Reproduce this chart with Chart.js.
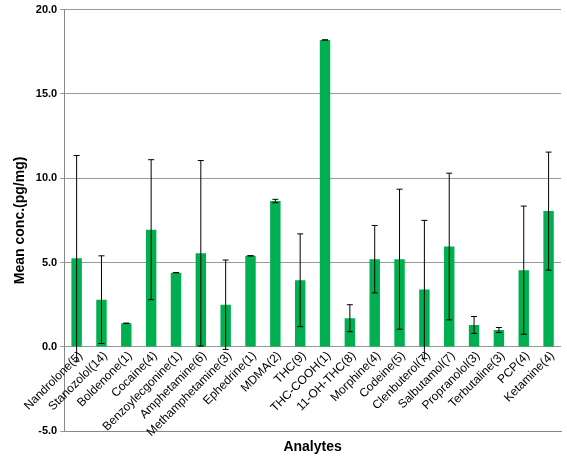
<!DOCTYPE html>
<html><head><script src="https://cdn.jsdelivr.net/npm/chart.js@4"></script>
<style>body{margin:0;background:#fff}#w{width:567px;height:462px}</style></head>
<body><div id="w"><canvas id="c"></canvas></div>
<script>
const categories=["Nandrolone(5)","Stanozolol(14)","Boldenone(1)","Cocaine(4)","Benzoylecgonine(1)","Amphetamine(6)","Methamphetamine(3)","Ephedrine(1)","MDMA(2)","THC(9)","THC-COOH(1)","11-OH-THC(8)","Morphine(4)","Codeine(5)","Clenbuterol(7)","Salbutamol(7)","Propranolol(3)","Terbutaline(3)","PCP(4)","Ketamine(4)"];
const means=[5.25,2.8,1.4,6.95,4.4,5.55,2.5,5.4,8.65,3.95,18.2,1.7,5.2,5.2,3.4,5.95,1.3,1.0,4.55,8.05];
const errors=[6.1,2.6,0,4.15,0,5.5,2.65,0,0.1,2.75,0,0.8,2.0,4.15,4.1,4.35,0.5,0.15,3.8,3.5];
const yTicks=[-5,0,5,10,15,20];
const FONT="'Liberation Sans Narrow','Liberation Sans', Arial, sans-serif";
const plug={id:'p',afterDatasetsDraw(ch){
  const {ctx,scales:{x,y}}=ch;
  ctx.save();ctx.strokeStyle='#000';ctx.lineWidth=1;
  means.forEach((m,i)=>{const e=errors[i];const px=x.getPixelForValue(i);
    const t=y.getPixelForValue(m+e),b=y.getPixelForValue(m-e);
    ctx.beginPath();ctx.moveTo(px,t);ctx.lineTo(px,b);
    ctx.moveTo(px-3,t);ctx.lineTo(px+3,t);ctx.moveTo(px-3,b);ctx.lineTo(px+3,b);ctx.stroke();});
  const y0=y.getPixelForValue(0);
  ctx.fillStyle='#000';ctx.font='12px '+FONT;ctx.textAlign='right';ctx.textBaseline='middle';
  categories.forEach((c,i)=>{const px=x.getPixelForValue(i);
    ctx.save();ctx.translate(px+4,y0+7);ctx.rotate(-Math.PI/4);ctx.fillText(c,0,0);ctx.restore();});
  ctx.restore();}};
new Chart(document.getElementById('c'),{type:'bar',
 data:{labels:categories,datasets:[{data:means,backgroundColor:'#00b050',barPercentage:0.42,categoryPercentage:1}]},
 options:{responsive:true,maintainAspectRatio:false,animation:false,
  layout:{padding:{top:0,right:6,left:8,bottom:4}},
  plugins:{legend:{display:false},tooltip:{enabled:false}},
  scales:{
   x:{grid:{display:false},border:{color:'#888'},ticks:{display:false},
      title:{display:true,text:'Analytes',font:{family:"'Liberation Sans', Arial",size:14,weight:'bold'},color:'#000',padding:{top:0,bottom:2}}},
   y:{min:-5,max:20,afterBuildTicks(a){a.ticks=yTicks.map(v=>({value:v}));},
      grid:{color:'#999',drawTicks:true,tickLength:4},border:{color:'#888'},
      ticks:{font:{family:"'Liberation Sans', Arial",size:11,weight:'bold'},color:'#000',callback:v=>v.toFixed(1)},
      title:{display:true,text:'Mean conc.(pg/mg)',font:{family:"'Liberation Sans', Arial",size:14,weight:'bold'},color:'#000'}}}},
 plugins:[plug]});
</script></body></html>
